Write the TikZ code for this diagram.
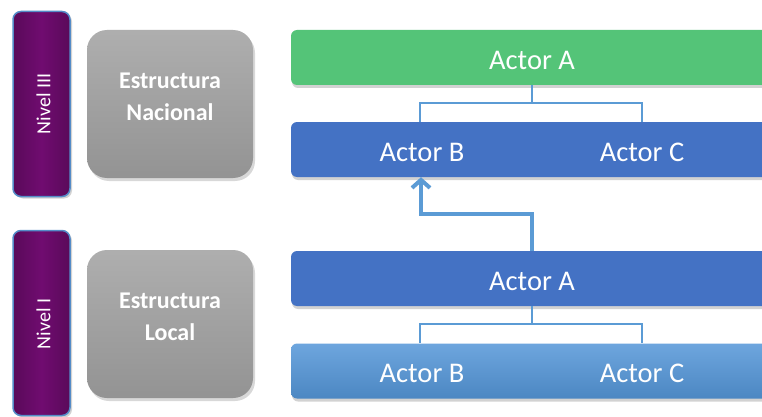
\documentclass[tikz,border=0pt]{standalone}
\usepackage{fontspec}
\setmainfont{Carlito}
\usetikzlibrary{arrows.meta,shadows}

\definecolor{nivelpurple}{RGB}{112,12,112}
\definecolor{nivelrim}{RGB}{84,140,200}
\definecolor{estgray}{RGB}{160,160,160}
\definecolor{actgreen}{RGB}{84,196,120}
\definecolor{actblue}{RGB}{68,114,196}
\definecolor{actlight}{RGB}{84,150,216}
\definecolor{linkblue}{RGB}{91,155,213}

\tikzset{
		nivel/.style   = {shape=rectangle, rounded corners=8pt,
				draw=nivelrim, line width=1.5pt,
				left color=nivelpurple!80!black, right color=nivelpurple!80!black,
				middle color=nivelpurple,
				minimum width=57pt, minimum height=185pt,
				drop shadow={opacity=0.35, shadow xshift=2pt, shadow yshift=-2pt}},
		nivtext/.style = {text=white, rotate=90, font=\fontsize{20}{24}\selectfont},
		estr/.style    = {shape=rectangle, rounded corners=20pt,
				top color=estgray!85!white, bottom color=estgray!92!black,
				minimum width=166pt, minimum height=148pt,
				drop shadow={opacity=0.3, shadow xshift=2pt, shadow yshift=-3pt}},
		estext/.style  = {text=white, align=center,
				font=\bfseries\fontsize{24}{32}\selectfont},
		actor/.style   = {shape=rectangle, rounded corners=6pt,
				minimum width=482pt, minimum height=55pt,
				drop shadow={opacity=0.35, shadow xshift=1pt, shadow yshift=-3pt}},
		actext/.style  = {text=white, font=\fontsize{28.5}{30}\selectfont},
		link/.style    = {draw=linkblue, line width=1.5pt},
		uplink/.style  = {draw=linkblue, line width=4pt,
				-{Straight Barb[length=8pt,width=18pt,line width=4pt]}}
	}

\begin{document}
\begin{tikzpicture}[x=1pt, y=-1pt]
	\clip (0,0) rectangle (762,417);
	\fill[white] (0,0) rectangle (762,417);

	% niveles
	\node [nivel] (niv3) at (41.5,104) {};
	\node [nivtext] (niv3t) at (43.5,104) {Nivel III};
	\node [nivel] (niv1) at (41.5,323) {};
	\node [nivtext] (niv1t) at (43.5,324) {Nivel I};

	% estructuras
	\node [estr] (estNac) at (170,104) {};
	\node [estext] (estNact) at (170,97) {Estructura\\Nacional};
	\node [estr] (estLoc) at (170,324) {};
	\node [estext] (estLoct) at (170,317) {Estructura\\Local};

	% actores nacionales
	\node [actor, fill=actgreen] (nacA) at (532,57.5) {};
	\node [actext] (nacAt) at (532,60) {Actor A};
	\node [actor, fill=actblue] (nacBC) at (532,149.5) {};
	\node [actext] (nacB) at (422,152) {Actor B};
	\node [actext] (nacC) at (642,152) {Actor C};

	% actores locales
	\node [actor, fill=actblue] (locA) at (532,278.5) {};
	\node [actext] (locAt) at (532,281) {Actor A};
	\node [actor, top color=actlight!85!white, bottom color=actlight!90!black] (locBC) at (532,371) {};
	\node [actext] (locB) at (422,373.5) {Actor B};
	\node [actext] (locC) at (642,373.5) {Actor C};

	% conectores
	\draw [link] (nacA.south) -- ++(0,18) coordinate (nacJ);
	\draw [link] (nacJ) -| ([xshift=-2pt]nacB.center |- nacBC.north);
	\draw [link] (nacJ) -| (nacC.center |- nacBC.north);
	\draw [link] (locA.south) -- ++(0,18) coordinate (locJ);
	\draw [link] (locJ) -| ([xshift=-2pt]locB.center |- locBC.north);
	\draw [link] (locJ) -| (locC.center |- locBC.north);

	% flecha
	\draw [uplink] (locA.north) -- ++(0,-37) -| ([xshift=-1pt]nacB.center |- nacBC.south);
\end{tikzpicture}
\end{document}
